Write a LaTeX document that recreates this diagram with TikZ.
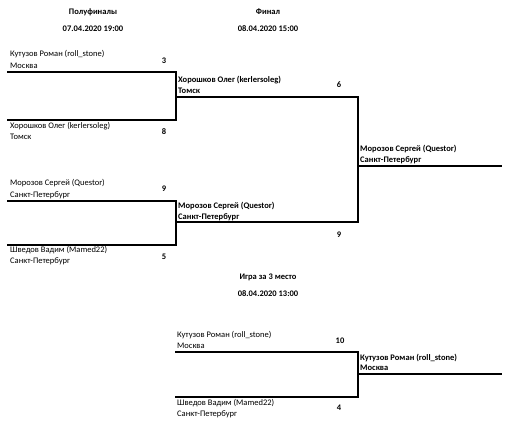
\documentclass[tikz,border=0pt]{standalone}
\usepackage{fontspec}
\setmainfont{Carlito}
\newcommand{\nmfont}{\fontsize{8.5}{10}\selectfont}
\begin{document}
\begin{tikzpicture}[x=1pt,y=-1pt,
  nm/.style={anchor=west,inner sep=0pt,font=\nmfont},
  wn/.style={anchor=west,inner sep=0pt,font=\nmfont\bfseries},
  sc/.style={inner sep=0pt,font=\nmfont\bfseries},
  ttl/.style={inner sep=0pt,font=\nmfont\bfseries},
  br/.style={line width=1.3pt,line cap=rect}]
\useasboundingbox (0,0) rectangle (524,433);
% titles
\node[ttl] (t1) at (93,12) {Полуфиналы};
\node[ttl] (d1) at (93,29) {07.04.2020 19:00};
\node[ttl] (t2) at (268,12) {Финал};
\node[ttl] (d2) at (268,29) {08.04.2020 15:00};
\node[ttl] (t3) at (268,277) {Игра за 3 место};
\node[ttl] (d3) at (268,294) {08.04.2020 13:00};
% semifinal 1
\node[nm] (s1a) at (10,54) {Кутузов Роман (roll\_stone)};
\node[nm] (s1ac) at (10,66) {Москва};
\node[sc] (s1as) at (164,61) {3};
\node[nm] (s1b) at (10,126) {Хорошков Олег (kerlersoleg)};
\node[nm] (s1bc) at (10,137) {Томск};
\node[sc] (s1bs) at (164,132) {8};
% semifinal 2
\node[nm] (s2a) at (10,183) {Морозов Сергей (Questor)};
\node[nm] (s2ac) at (10,195) {Санкт-Петербург};
\node[sc] (s2as) at (164,189) {9};
\node[nm] (s2b) at (10,250) {Шведов Вадим (Mamed22)};
\node[nm] (s2bc) at (10,261) {Санкт-Петербург};
\node[sc] (s2bs) at (164,257) {5};
% final
\node[wn] (fa) at (178,80) {Хорошков Олег (kerlersoleg)};
\node[wn] (fac) at (178,91) {Томск};
\node[sc] (fas) at (339,85) {6};
\node[wn] (fb) at (178,206) {Морозов Сергей (Questor)};
\node[wn] (fbc) at (178,217) {Санкт-Петербург};
\node[sc] (fbs) at (339,235) {9};
\node[wn] (ch) at (360,149) {Морозов Сергей (Questor)};
\node[wn] (chc) at (360,160) {Санкт-Петербург};
% third place
\node[nm] (ta) at (177,335) {Кутузов Роман (roll\_stone)};
\node[nm] (tac) at (177,346) {Москва};
\node[sc] (tas) at (340,341) {10};
\node[nm] (tb) at (177,403) {Шведов Вадим (Mamed22)};
\node[nm] (tbc) at (177,414) {Санкт-Петербург};
\node[sc] (tbs) at (339,408) {4};
\node[wn] (tw) at (360,358) {Кутузов Роман (roll\_stone)};
\node[wn] (twc) at (360,368) {Москва};
% bracket coordinates
\coordinate (a1) at (8,72);   \coordinate (a2) at (176,72);
\coordinate (a3) at (8,120);  \coordinate (a4) at (176,120);
\coordinate (b1) at (8,201);  \coordinate (b2) at (176,201);
\coordinate (b3) at (8,245);  \coordinate (b4) at (176,245);
\coordinate (f1) at (176,97); \coordinate (f2) at (358,97);
\coordinate (f3) at (176,222);\coordinate (f4) at (358,222);
\coordinate (c1) at (358,166);\coordinate (c2) at (501,166);
\coordinate (g1) at (176,352);\coordinate (g2) at (358,352);
\coordinate (g3) at (176,397);\coordinate (g4) at (358,397);
\coordinate (h1) at (358,374);\coordinate (h2) at (501,374);
\draw[br] (a1) -- (a2) -- (a4) -- (a3);
\draw[br] (b1) -- (b2) -- (b4) -- (b3);
\draw[br] (f1) -- (f2) -- (f4) -- (f3);
\draw[br] (c1) -- (c2);
\draw[br] (g1) -- (g2) -- (g4) -- (g3);
\draw[br] (h1) -- (h2);
\end{tikzpicture}
\end{document}
